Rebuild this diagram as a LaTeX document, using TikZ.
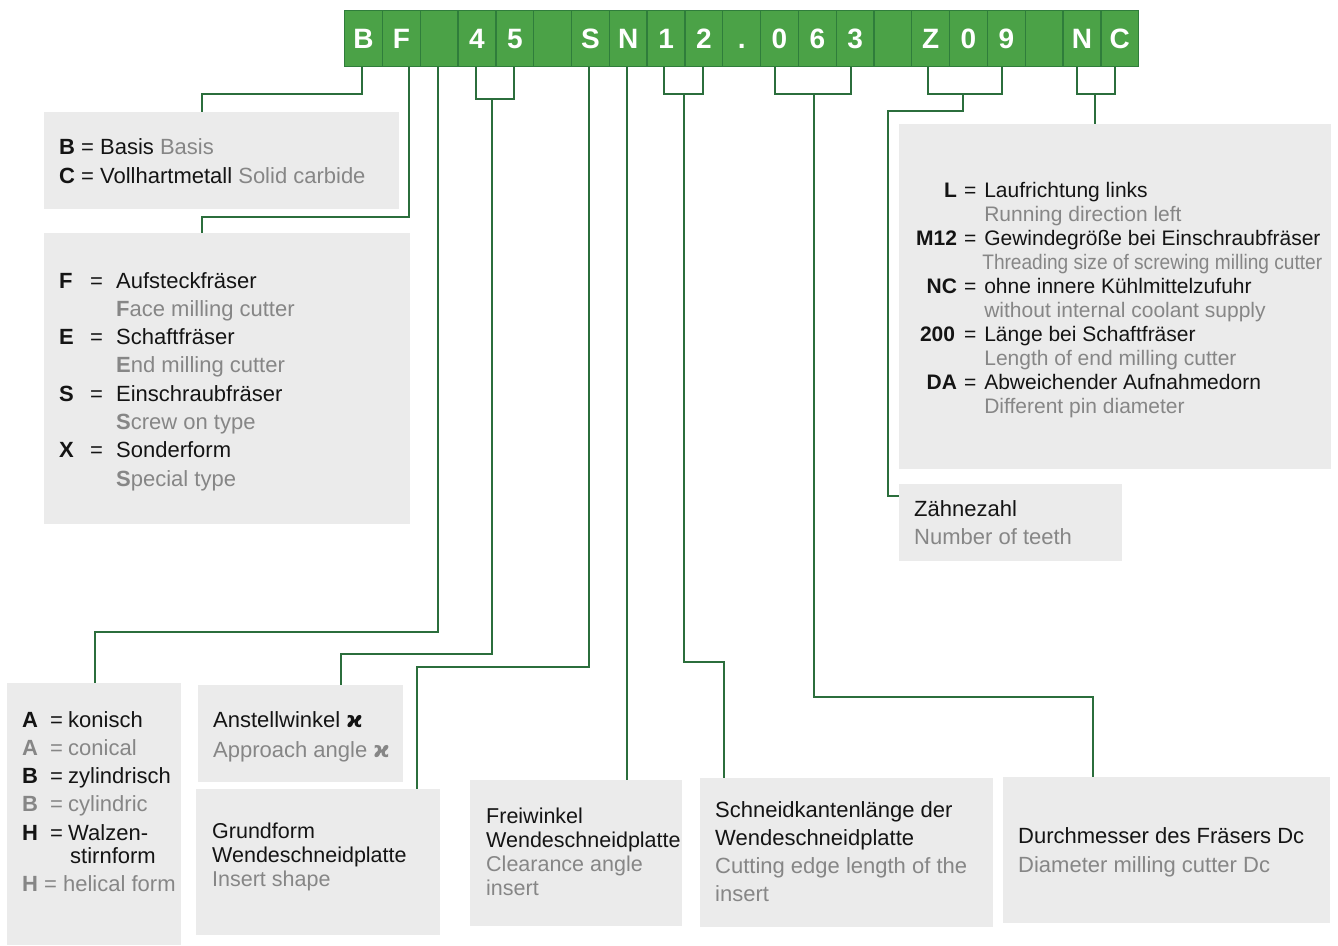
\documentclass[tikz,border=0pt]{standalone}
\usepackage{fontspec}
\usepackage{graphicx}
\setmainfont{Liberation Sans}
\newfontfamily\kapfont{DejaVu Sans}
\definecolor{barfill}{HTML}{4BA247}
\definecolor{barline}{HTML}{2F7D3B}
\definecolor{conncol}{HTML}{2B6E3C}
\definecolor{boxfill}{HTML}{EBEBEB}
\definecolor{txtgray}{HTML}{868686}
\definecolor{txtblack}{HTML}{141414}
\newcommand\gtx[1]{\textcolor{txtgray}{#1}}
\newcommand\kap{{\kapfont\bfseries ϰ}}
\tikzset{
  cell/.style={draw=barline, line width=1.3pt, fill=barfill, minimum width=37.81pt,
    minimum height=56pt, inner sep=0pt, anchor=north west, text=white,
    font=\fontsize{28}{28}\selectfont\bfseries, text height=20pt, text depth=0pt},
  infobox/.style={fill=boxfill, draw=none, anchor=north west, inner sep=0pt},
  conn/.style={draw=conncol, line width=2pt},
  txt/.style={anchor=base west, inner sep=0pt, text=txtblack},
  fa/.style={font=\fontsize{22}{28.3}\selectfont},
}
\begin{document}
\begin{tikzpicture}[x=1pt,y=-1pt]
\useasboundingbox (0,0) rectangle (1338,945);

% ---------- info boxes ----------
\node[infobox,minimum width=355pt,minimum height=97pt]  (bxB)   at (44,112)  {};
\node[infobox,minimum width=366pt,minimum height=291pt] (bxF)   at (44,233)  {};
\node[infobox,minimum width=432pt,minimum height=345pt] (bxNC)  at (899,124) {};
\node[infobox,minimum width=223pt,minimum height=77pt]  (bxZ)   at (899,484) {};
\node[infobox,minimum width=174pt,minimum height=262pt] (bxA)   at (7,683)   {};
\node[infobox,minimum width=205pt,minimum height=97pt]  (bxAng) at (198,685) {};
\node[infobox,minimum width=244pt,minimum height=146pt] (bxG)   at (196,789) {};
\node[infobox,minimum width=212pt,minimum height=146pt] (bxFr)  at (470,780) {};
\node[infobox,minimum width=293pt,minimum height=149pt] (bxS)   at (700,778) {};
\node[infobox,minimum width=327pt,minimum height=146pt] (bxD)   at (1003,777) {};

% ---------- texts ----------
\node[txt,font=\fontsize{22}{29}\selectfont] (tB) at (59,154) {\begin{tabular}[t]{@{}l@{}}
\textbf{B} = Basis \gtx{Basis}\\
\textbf{C} = Vollhartmetall \gtx{Solid carbide}\end{tabular}};

\node[txt,fa] (tF) at (59,288) {\begin{tabular}[t]{@{}p{31pt}@{}p{26pt}@{}l@{}}
\textbf{F} & = & Aufsteckfräser\\
 & & \gtx{\textbf{F}ace milling cutter}\\
\textbf{E} & = & Schaftfräser\\
 & & \gtx{\textbf{E}nd milling cutter}\\
\textbf{S} & = & Einschraubfräser\\
 & & \gtx{\textbf{S}crew on type}\\
\textbf{X} & = & Sonderform\\
 & & \gtx{\textbf{S}pecial type}
\end{tabular}};

\node[txt,font=\fontsize{21}{24}\selectfont] (tNC) at (916,197) {\begin{tabular}[t]{@{}r@{\hspace{7pt}}l@{\hspace{8pt}}l@{}}
\textbf{L} & = & Laufrichtung links\\
 & & \gtx{Running direction left}\\
\textbf{M12} & = & Gewindegröße bei Einschraubfräser\\
 & & \hspace{-2pt}\gtx{\scalebox{0.91}[1]{Threading size of screwing milling cutter}}\\
\textbf{NC} & = & ohne innere Kühlmittelzufuhr\\
 & & \gtx{without internal coolant supply}\\
\textbf{200}\hspace{2pt} & = & Länge bei Schaftfräser\\
 & & \gtx{Length of end milling cutter}\\
\textbf{DA} & = & Abweichender Aufnahmedorn\\
 & & \gtx{Different pin diameter}
\end{tabular}};

\node[txt,fa] (tZ) at (914,516) {\begin{tabular}[t]{@{}l@{}}
Zähnezahl\\ \gtx{Number of teeth}\end{tabular}};

\node[txt,fa] (tA) at (22,727) {\begin{tabular}[t]{@{}p{28pt}@{}p{18pt}@{}l@{}}
\textbf{A} & = & konisch\\
\gtx{\textbf{A}} & \gtx{=} & \gtx{conical}\\
\textbf{B} & = & zylindrisch\\
\gtx{\textbf{B}} & \gtx{=} & \gtx{cylindric}\\
\textbf{H} & = & Walzen-\\[-5.3pt]
 & & \hspace{2pt}stirnform\\
\multicolumn{3}{@{}l@{}}{\gtx{\textbf{H} = helical form}}
\end{tabular}};

\node[txt,font=\fontsize{22}{30}\selectfont] (tAng) at (213,727) {\begin{tabular}[t]{@{}l@{}}
Anstellwinkel \kap\\ \gtx{Approach angle \kap}\end{tabular}};

\node[txt,font=\fontsize{21.5}{24}\selectfont] (tG) at (212,838) {\begin{tabular}[t]{@{}l@{}}
Grundform\\ Wendeschneidplatte\\ \gtx{Insert shape}\end{tabular}};

\node[txt,font=\fontsize{21.5}{24}\selectfont] (tFr) at (486,823) {\begin{tabular}[t]{@{}l@{}}
Freiwinkel\\ Wendeschneidplatte\\ \gtx{Clearance angle}\\ \gtx{insert}\end{tabular}};

\node[txt,font=\fontsize{22}{28}\selectfont] (tS) at (715,817) {\begin{tabular}[t]{@{}l@{}}
Schneidkantenlänge der\\ Wendeschneidplatte\\ \gtx{Cutting edge length of the}\\ \gtx{insert}\end{tabular}};

\node[txt,font=\fontsize{22}{29}\selectfont] (tD) at (1018,843) {\begin{tabular}[t]{@{}l@{}}
Durchmesser des Fräsers Dc\\ \gtx{Diameter milling cutter Dc}\end{tabular}};

% ---------- bar cells ----------
\foreach \t [count=\i from 0] in {B,F,{},4,5,{},S,N,1,2,.,0,6,3,{},Z,0,9,{},N,C}
  \node[cell] (c\i) at ({344+37.81*\i},10) {\t};

% ---------- bend points ----------
\coordinate (kB)   at (202,94);
\coordinate (kF)   at (202,217);
\coordinate (kX)   at (95,632);
\coordinate (m45)  at (492,99);
\coordinate (k45)  at (341,654);
\coordinate (kS)   at (417,667);
\coordinate (m12)  at (684,94);
\coordinate (k12)  at (724,662);
\coordinate (m063) at (814,94);
\coordinate (k063) at (1093,697);
\coordinate (mZ)   at (963,94);
\coordinate (kZ)   at (888,111);
\coordinate (kZ2)  at (888,496);
\coordinate (mNC)  at (1095,94);

% ---------- connectors ----------
\draw[conn] ([xshift=-2pt]c0.south) |- (kB) -- (kB |- bxB.north);
\draw[conn] ([xshift=7.3pt]c1.south) |- (kF) -- (kF |- bxF.north);
\draw[conn] ([xshift=-1.5pt]c2.south) |- (kX) -- (kX |- bxA.north);
\draw[conn] ([xshift=-1.3pt]c3.south) |- (m45) -| ([xshift=-1.1pt]c4.south);
\draw[conn] (m45) |- (k45) -- (k45 |- bxAng.north);
\draw[conn] ([xshift=-1.8pt]c6.south) |- (kS) -- (kS |- bxG.north);
\draw[conn] ([xshift=-1.6pt]c7.south) -- ([xshift=-1.6pt]c7.south |- bxFr.north);
\draw[conn] ([xshift=-2.4pt]c8.south) |- (m12) -| ([xshift=-1.2pt]c9.south);
\draw[conn] (m12) |- (k12) -- (k12 |- bxS.north);
\draw[conn] ([xshift=-4.8pt]c11.south) |- (m063) -| ([xshift=-4.4pt]c13.south);
\draw[conn] (m063) |- (k063) -- (k063 |- bxD.north);
\draw[conn] ([xshift=-3.1pt]c15.south) |- (mZ) -| ([xshift=-4.7pt]c17.south);
\draw[conn] (mZ) |- (kZ) -- (kZ2) -- (kZ2 -| bxZ.west);
\draw[conn] ([xshift=-5.3pt]c19.south) |- (mNC) -| ([xshift=-5.1pt]c20.south);
\draw[conn] (mNC) -- (mNC |- bxNC.north);
\end{tikzpicture}
\end{document}
